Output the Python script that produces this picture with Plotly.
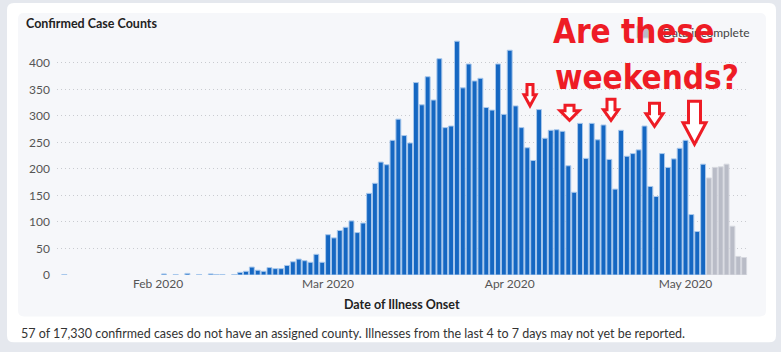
import plotly.graph_objects as go
import pandas as pd

# ---------------- data ----------------
early_dates = ["2020-01-16", "2020-02-02", "2020-02-04", "2020-02-06", "2020-02-08",
               "2020-02-10", "2020-02-11", "2020-02-12", "2020-02-14"]
early_counts = [1, 2, 1, 3, 1, 2, 1, 1, 1]

daily_start = "2020-02-15"
daily_counts = [
    5, 7, 15, 9, 7, 14, 12, 12, 18, 25, 30, 27, 24, 39, 24,            # Feb 15 - Feb 29
    76, 70, 84, 90, 102, 80, 98, 154, 173, 213, 208, 254, 294, 263, 249, # Mar 1 - Mar 15
    363, 321, 374, 330, 408, 278, 281, 441, 353, 398, 366, 371, 316, 311, 398, 303,  # Mar 16 - Mar 31
    424, 319, 278, 240, 216, 312, 258, 273, 274, 271, 206, 156, 286, 220, 286,  # Apr 1 - Apr 15
    255, 283, 218, 162, 273, 224, 229, 236, 281, 167, 148, 229, 203, 219, 239,  # Apr 16 - Apr 30
    254, 114, 82, 209,                                                    # May 1 - May 4
]
incomplete_start = "2020-05-05"
incomplete_counts = [183, 203, 204, 209, 92, 35, 33]

y_ticks = [0, 50, 100, 150, 200, 250, 300, 350, 400]

confirmed_x = early_dates + [d.strftime("%Y-%m-%d") for d in pd.date_range(daily_start, periods=len(daily_counts))]
confirmed_y = early_counts + daily_counts
incomplete_x = [d.strftime("%Y-%m-%d") for d in pd.date_range(incomplete_start, periods=len(incomplete_counts))]

# ---------------- layout helpers (pixel -> paper) ----------------
W, H = 781, 352
ML, MR, MT, MB = 57, 32, 29, 76.5
PW = W - ML - MR
PH = H - MT - MB


def px(x):
    return (x - ML) / PW


def py(y):
    return (H - MB - y) / PH


def rounded_rect(x0, y0, x1, y1, r):
    pts = [
        f"M{px(x0 + r)},{py(y0)}",
        f"L{px(x1 - r)},{py(y0)}",
        f"Q{px(x1)},{py(y0)} {px(x1)},{py(y0 + r)}",
        f"L{px(x1)},{py(y1 - r)}",
        f"Q{px(x1)},{py(y1)} {px(x1 - r)},{py(y1)}",
        f"L{px(x0 + r)},{py(y1)}",
        f"Q{px(x0)},{py(y1)} {px(x0)},{py(y1 - r)}",
        f"L{px(x0)},{py(y0 + r)}",
        f"Q{px(x0)},{py(y0)} {px(x0 + r)},{py(y0)}",
        "Z",
    ]
    return " ".join(pts)


def arrow_path(cx, top, bottom, sw, hw, hy):
    p = [(cx - sw / 2, top), (cx + sw / 2, top), (cx + sw / 2, hy), (cx + hw / 2, hy),
         (cx, bottom), (cx - hw / 2, hy), (cx - sw / 2, hy)]
    return "M" + " L".join(f"{px(a)},{py(b)}" for a, b in p) + " Z"


FONT = "Lato, 'Open Sans', sans-serif"
RED_FONT = "'DejaVu Sans Condensed', 'DejaVu Sans', sans-serif"

fig = go.Figure()
fig.add_trace(go.Bar(
    x=confirmed_x, y=confirmed_y, name="Confirmed",
    marker=dict(color="#1567c2", line=dict(color="#a9c8ec", width=1)),
    showlegend=False,
))
fig.add_trace(go.Bar(
    x=incomplete_x, y=incomplete_counts, name="Data incomplete",
    marker=dict(color="#b9bcc7", line=dict(color="#d6d8df", width=1)),
    showlegend=True,
))

shapes = [
    dict(type="path", xref="paper", yref="paper", layer="below",
         path=rounded_rect(7, 3, 776, 343, 7), fillcolor="#ffffff", line=dict(width=0)),
    dict(type="path", xref="paper", yref="paper", layer="below",
         path=rounded_rect(18, 13, 766, 317, 6), fillcolor="#f6f7fa", line=dict(width=0)),
]

arrows = [
    (530, 84.5, 106, 6, 12, 95),
    (569.5, 105.5, 120.5, 9, 19, 111),
    (611, 99.5, 120.5, 8, 15, 110),
    (654.5, 103.5, 126.5, 10, 17, 114),
    (694.5, 101.5, 144.5, 12, 23, 123),
]
for a in arrows:
    shapes.append(dict(type="path", xref="paper", yref="paper", layer="above",
                       path=arrow_path(*a), fillcolor="#ffffff",
                       line=dict(color="#ee1c25", width=3)))

annotations = [
    dict(text="<b>Confirmed Case Counts</b>", x=px(24), y=py(23), xref="paper", yref="paper",
         xanchor="left", yanchor="middle", showarrow=False,
         font=dict(family=FONT, size=12.5, color="#222222")),
    dict(text="<b>Date of Illness Onset</b>", x=px(402), y=py(305), xref="paper", yref="paper",
         xanchor="center", yanchor="middle", showarrow=False,
         font=dict(family=FONT, size=12.5, color="#222222")),
    dict(text="57 of 17,330 confirmed cases do not have an assigned county. Illnesses from the last 4 to 7 days may not yet be reported.",
         x=px(19), y=py(334), xref="paper", yref="paper",
         xanchor="left", yanchor="middle", showarrow=False,
         font=dict(family=FONT, size=12.5, color="#333333")),
    dict(text="<b>Are these</b>", x=px(551), y=py(32), xref="paper", yref="paper",
         xanchor="left", yanchor="middle", showarrow=False,
         font=dict(family=RED_FONT, size=33, color="#ee1c25")),
    dict(text="<b>weekends?</b>", x=px(553), y=py(78), xref="paper", yref="paper",
         xanchor="left", yanchor="middle", showarrow=False,
         font=dict(family=RED_FONT, size=33, color="#ee1c25")),
]

fig.update_layout(
    width=W, height=H,
    margin=dict(l=ML, r=MR, t=MT, b=MB, pad=0),
    paper_bgcolor="#e5e8ee",
    plot_bgcolor="rgba(0,0,0,0)",
    font=dict(family=FONT, size=12, color="#555555"),
    bargap=0.16,
    barmode="overlay",
    shapes=shapes,
    annotations=annotations,
    legend=dict(x=px(623), y=py(32), xanchor="left", yanchor="middle",
                bgcolor="rgba(0,0,0,0)", font=dict(family=FONT, size=12, color="#444444")),
    xaxis=dict(
        type="date",
        range=["2020-01-14 18:00", "2020-05-11 20:00"],
        tick0="2020-02-01", dtick="M1", tickformat="%b %Y",
        showgrid=False, zeroline=False, showline=False, ticks="",
        tickfont=dict(family=FONT, size=12, color="#555555"),
    ),
    yaxis=dict(
        range=[0, 464], tickvals=y_ticks,
        showgrid=True, gridcolor="#c9cbd0", griddash="1px,3px", gridwidth=1,
        zeroline=False, showline=False, ticks="", ticklabelstandoff=6,
        tickfont=dict(family=FONT, size=12, color="#555555"),
    ),
)

fig.write_html("out.html")
